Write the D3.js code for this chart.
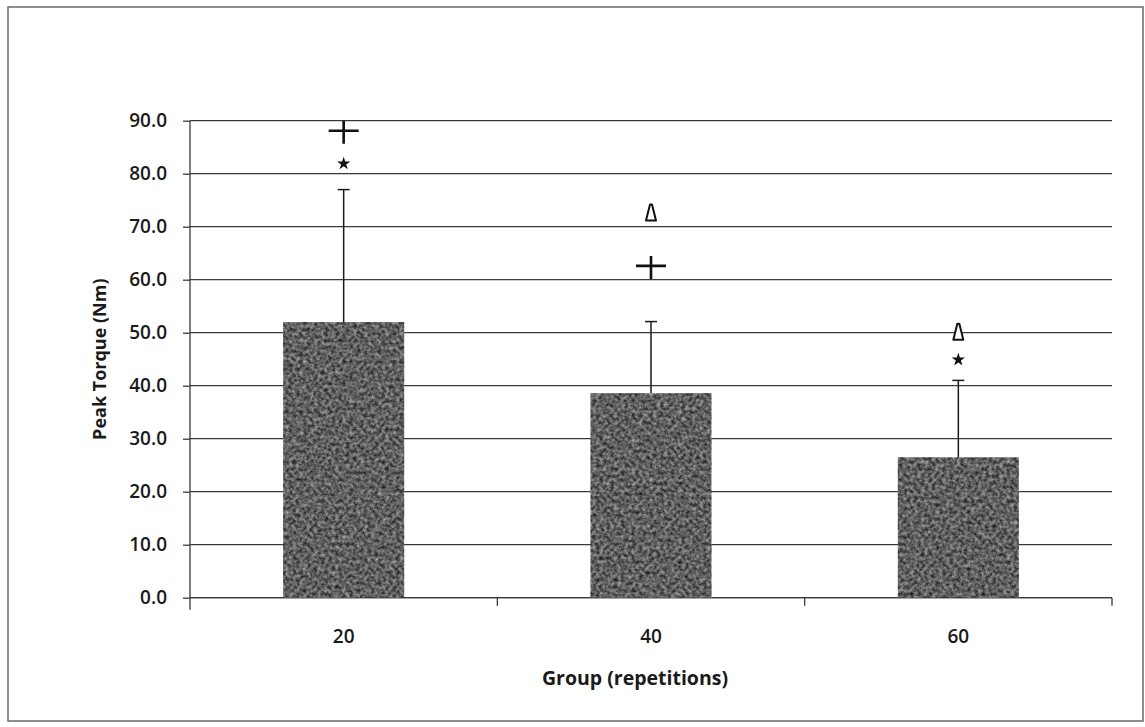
<!DOCTYPE html>
<html>
<head>
<meta charset="utf-8">
<script src="https://cdn.jsdelivr.net/npm/d3@7"></script>
<style>
  html, body { margin: 0; padding: 0; background: #fff; }
  svg { display: block; }
  text { font-family: "Open Sans", "DejaVu Sans", sans-serif; fill: #1a1a1a; }
</style>
</head>
<body>
<script>
// Peak torque by group (mean with upward SD bar)
const groups = ["20", "40", "60"];
const meanTorque = [52.0, 38.6, 26.5];
const sdTorque = [25.0, 13.5, 14.5];
const yTicks = [0, 10, 20, 30, 40, 50, 60, 70, 80, 90];

// Significance markers placed above each group (value in Nm)
const markerGroup = ["20", "20", "40", "40", "60", "60"];
const markerType = ["plus", "star", "delta", "plus", "delta", "star"];
const markerValue = [88.1, 81.9, 72.5, 62.6, 50.0, 44.9];

const W = 1145, H = 727;
const margin = { left: 190, right: 33, top: 120.7, bottom: 129.3 };

const svg = d3.select("body").append("svg")
  .attr("width", W).attr("height", H);

// mottled grey fill for bars
const defs = svg.append("defs");
const f = defs.append("filter").attr("id", "grain")
  .attr("color-interpolation-filters", "sRGB")
  .attr("x", 0).attr("y", 0).attr("width", 1).attr("height", 1);
f.append("feTurbulence").attr("type", "fractalNoise")
  .attr("baseFrequency", 0.28).attr("numOctaves", 3).attr("seed", 7).attr("result", "n");
f.append("feColorMatrix").attr("in", "n").attr("type", "matrix")
  .attr("values", "0.75 0 0 0 0.0  0.75 0 0 0 0.0  0.75 0 0 0 0.0  0 0 0 0 1")
  .attr("result", "g");
f.append("feComposite").attr("in", "g").attr("in2", "SourceAlpha").attr("operator", "in");

// outer frame
svg.append("rect")
  .attr("x", 8).attr("y", 7).attr("width", 1135).attr("height", 714)
  .attr("fill", "none").attr("stroke", "#6a6a6a").attr("stroke-width", 1.5);

const x = d3.scaleBand().domain(groups)
  .range([margin.left, W - margin.right])
  .paddingInner(0.606).paddingOuter(0.303);
const y = d3.scaleLinear().domain([0, 90])
  .range([H - margin.bottom, margin.top]);

// horizontal gridlines
svg.append("g").selectAll("line").data(yTicks).join("line")
  .attr("x1", margin.left).attr("x2", W - margin.right)
  .attr("y1", d => y(d)).attr("y2", d => y(d))
  .attr("stroke", "#3a3a3a").attr("stroke-width", 1.3);

// y axis
const yAxis = svg.append("g").attr("transform", `translate(${margin.left},0)`)
  .call(d3.axisLeft(y).tickValues(yTicks).tickFormat(d3.format(".1f")).tickSize(7).tickPadding(16));
yAxis.select(".domain").attr("stroke", "#3a3a3a").attr("stroke-width", 1.3)
  .attr("d", `M0,${y(0) + 12}V${y(90)}`);
yAxis.selectAll(".tick line").attr("stroke", "#3a3a3a").attr("stroke-width", 1.3);
yAxis.selectAll(".tick text")
  .style("font-size", "19px").style("font-family", "Open Sans").style("font-weight", "600")
  .attr("fill", "#222");

// x axis line with ticks at band boundaries
const step = x.step();
const xEdges = d3.range(groups.length + 1).map(i => margin.left + i * step);
svg.append("line")
  .attr("x1", margin.left).attr("x2", W - margin.right)
  .attr("y1", y(0)).attr("y2", y(0))
  .attr("stroke", "#3a3a3a").attr("stroke-width", 1.3);
svg.append("g").selectAll("line").data(xEdges.slice(1)).join("line")
  .attr("x1", d => d).attr("x2", d => d)
  .attr("y1", y(0)).attr("y2", y(0) + 8)
  .attr("stroke", "#3a3a3a").attr("stroke-width", 1.3);

// x tick labels
svg.append("g").selectAll("text").data(groups).join("text")
  .attr("x", d => x(d) + x.bandwidth() / 2).attr("y", 643)
  .attr("text-anchor", "middle").style("font-size", "19px").style("font-weight", "600")
  .attr("fill", "#222")
  .text(d => d);

// bars
svg.append("g").selectAll("rect").data(groups).join("rect")
  .attr("x", d => x(d)).attr("width", x.bandwidth())
  .attr("y", (d, i) => y(meanTorque[i]))
  .attr("height", (d, i) => y(0) - y(meanTorque[i]))
  .attr("fill", "#5e5e5e").attr("filter", "url(#grain)");

// error bars (upper only)
const eb = svg.append("g").attr("stroke", "#1a1a1a").attr("stroke-width", 1.5);
groups.forEach((g, i) => {
  const cx = x(g) + x.bandwidth() / 2;
  eb.append("line").attr("x1", cx).attr("x2", cx)
    .attr("y1", y(meanTorque[i])).attr("y2", y(meanTorque[i] + sdTorque[i]));
  eb.append("line").attr("x1", cx - 6).attr("x2", cx + 6)
    .attr("y1", y(meanTorque[i] + sdTorque[i])).attr("y2", y(meanTorque[i] + sdTorque[i]));
});

// significance markers
const mk = svg.append("g");
markerType.forEach((t, i) => {
  const cx = x(markerGroup[i]) + x.bandwidth() / 2;
  const cy = y(markerValue[i]);
  if (t === "plus") {
    mk.append("path")
      .attr("d", `M${cx - 15},${cy}H${cx + 15}M${cx},${cy - 10}V${cy + 13}`)
      .attr("stroke", "#111").attr("stroke-width", 2.6).attr("fill", "none");
  } else if (t === "star") {
    mk.append("path")
      .attr("d", d3.symbol(d3.symbolStar, 55)())
      .attr("transform", `translate(${cx},${cy})`)
      .attr("fill", "#111");
  } else {
    mk.append("path")
      .attr("d", `M${cx - 1},${cy - 9}L${cx + 1},${cy - 9}L${cx + 5},${cy + 7}L${cx - 5},${cy + 7}Z`)
      .attr("stroke", "#111").attr("stroke-width", 2).attr("fill", "#fff")
      .attr("stroke-linejoin", "round");
  }
});

// axis titles
svg.append("text")
  .attr("transform", `translate(106,${(y(0) + y(90)) / 2}) rotate(-90)`)
  .attr("text-anchor", "middle").style("font-size", "18px").style("font-weight", "bold")
  .text("Peak Torque (Nm)");
svg.append("text")
  .attr("x", 635).attr("y", 685)
  .attr("text-anchor", "middle").style("font-size", "19.5px").style("font-weight", "bold")
  .text("Group (repetitions)");
</script>
</body>
</html>
